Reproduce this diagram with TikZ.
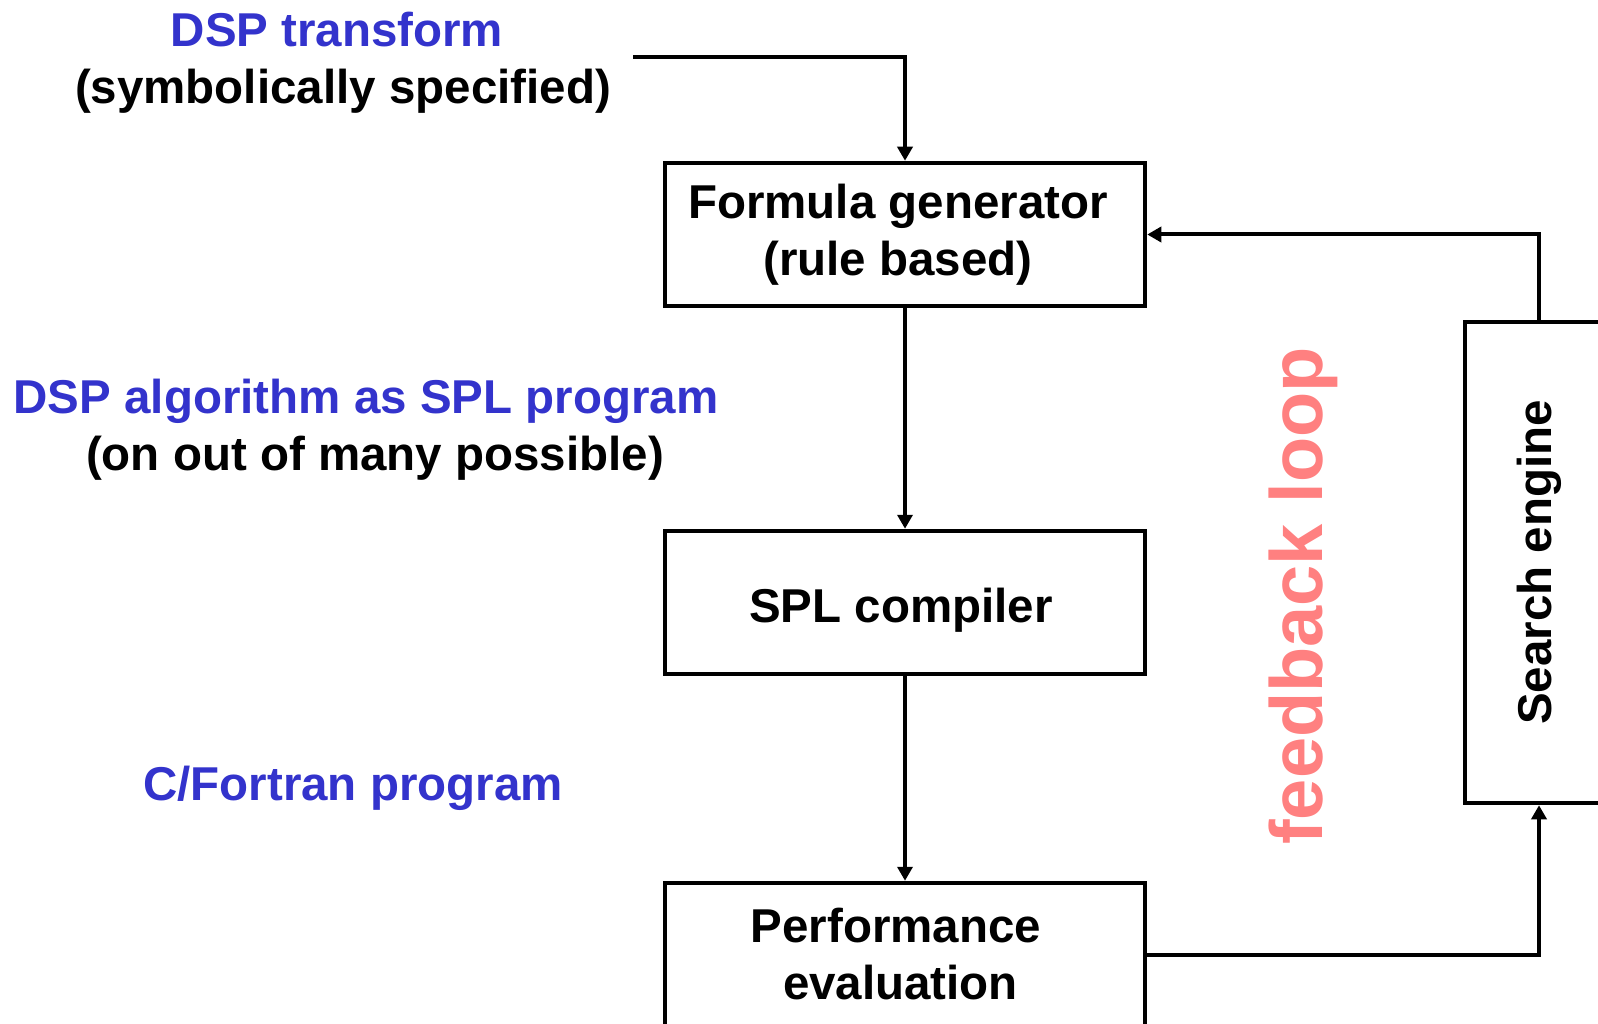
\documentclass[tikz,border=0pt]{standalone}
\usepackage{fontspec}
\setmainfont{Liberation Sans}
\usetikzlibrary{arrows.meta}
\definecolor{labelblue}{RGB}{51,51,204}
\definecolor{looppink}{RGB}{255,128,128}
\newcommand{\lnudge}[1]{\hspace*{-#1}}
\tikzset{
  stagebox/.style={draw, line width=4.5pt, minimum width=480pt, minimum height=143pt,
    inner sep=0pt, align=center, font=\fontsize{47.5}{57}\selectfont\bfseries},
  flow/.style={line width=4pt, -{Triangle[width=15pt,length=14pt]}},
  sidetext/.style={anchor=base, inner sep=0pt, font=\fontsize{47.5}{57}\selectfont\bfseries},
}
\begin{document}
\begin{tikzpicture}[x=1pt,y=-1pt]
\useasboundingbox (0,0) rectangle (1598,1024);
% processing stages
\node[stagebox] (fg) at (905,234.5) {\lnudge{14pt}Formula generator\\\lnudge{14pt}(rule based)};
\node[stagebox, text height=40pt, text depth=0pt] (spl) at (905,602.5) {\lnudge{8pt}SPL compiler};
\node[stagebox] (pe) at (905,954.5) {\lnudge{18pt}Performance\\\lnudge{9pt}evaluation};
\node[stagebox, minimum width=481pt, minimum height=148pt, rotate=90] (se) at (1539,562.5) {Search engine};
% side labels
\node[sidetext, text=labelblue] (t1) at (337,47) {DSP transform};
\node[sidetext] (t2) at (343,104) {(symbolically specified)};
\node[sidetext, text=labelblue] (t3) at (366,413) {DSP algorithm as SPL program};
\node[sidetext] (t4) at (375,470) {(on out of many possible)};
\node[sidetext, text=labelblue] (t5) at (353,800) {C/Fortran program};
\node[rotate=90, text=looppink, inner sep=0pt, font=\fontsize{74}{84}\selectfont\bfseries] (loop) at (1303,596) {feedback loop};
% connectors
\coordinate (in) at (633,57);
\draw[flow] (in) -| (fg.north);
\draw[flow] (fg) -- (spl);
\draw[flow] (spl) -- (pe);
\draw[flow] (pe.east) -| (se.west);
\draw[flow] (se.east) |- (fg.east);
\end{tikzpicture}
\end{document}
